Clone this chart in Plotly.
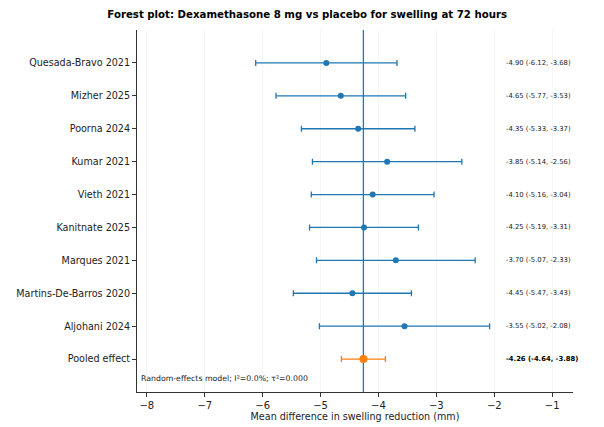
import plotly.graph_objects as go

studies = ["Quesada-Bravo 2021", "Mizher 2025", "Poorna 2024", "Kumar 2021", "Vieth 2021",
           "Kanitnate 2025", "Marques 2021", "Martins-De-Barros 2020", "Aljohani 2024"]
md = [-4.90, -4.65, -4.35, -3.85, -4.10, -4.25, -3.70, -4.45, -3.55]
lower = [-6.12, -5.77, -5.33, -5.14, -5.16, -5.19, -5.07, -5.47, -5.02]
upper = [-3.68, -3.53, -3.37, -2.56, -3.04, -3.31, -2.33, -3.43, -2.08]
pooled_label = "Pooled effect"
pooled_md = -4.26
pooled_lower = -4.64
pooled_upper = -3.88
model_note = "Random-effects model; I²=0.0%; τ²=0.000"
x_ticks = [-8, -7, -6, -5, -4, -3, -2, -1]

n = len(studies)
ys = [n - i for i in range(n)]  # 9..1
text_x = max(upper) + 0.25

fig = go.Figure()
fig.add_trace(go.Scatter(
    x=md, y=ys, mode="markers",
    marker=dict(color="#1f77b4", size=6),
    error_x=dict(type="data", symmetric=False,
                 array=[u - m for u, m in zip(upper, md)],
                 arrayminus=[m - l for m, l in zip(md, lower)],
                 color="#1f77b4", thickness=1.3, width=3),
    showlegend=False, hoverinfo="skip", cliponaxis=False))
fig.add_trace(go.Scatter(
    x=[pooled_md], y=[0], mode="markers",
    marker=dict(color="#ff7f0e", size=8),
    error_x=dict(type="data", symmetric=False,
                 array=[pooled_upper - pooled_md], arrayminus=[pooled_md - pooled_lower],
                 color="#ff7f0e", thickness=1.3, width=3),
    showlegend=False, hoverinfo="skip", cliponaxis=False))

fig.add_shape(type="line", x0=pooled_md, x1=pooled_md, y0=0, y1=1, xref="x", yref="paper",
              line=dict(color="#1f77b4", width=1.3), layer="below")

for y, m, l, u in zip(ys, md, lower, upper):
    fig.add_annotation(x=text_x, y=y, xref="x", yref="y", xanchor="left", yanchor="middle",
                       text=f"{m:.2f} ({l:.2f}, {u:.2f})", showarrow=False,
                       font=dict(size=6.8, color="#222222"))
fig.add_annotation(x=text_x, y=0, xref="x", yref="y", xanchor="left", yanchor="middle",
                   text=f"<b>{pooled_md:.2f} ({pooled_lower:.2f}, {pooled_upper:.2f})</b>",
                   showarrow=False, font=dict(size=6.8, color="#000000"))
fig.add_annotation(x=0.005, y=0.02, xref="paper", yref="paper", xanchor="left", yanchor="bottom",
                   text=model_note, showarrow=False, font=dict(size=7.8, color="#222222"))

fig.update_layout(
    width=596, height=419,
    margin=dict(l=129, r=31, t=22, b=35),
    plot_bgcolor="white", paper_bgcolor="white",
    font=dict(family="DejaVu Sans", size=9.6, color="#222222"),
    title=dict(text="<b>Forest plot: Dexamethasone 8 mg vs placebo for swelling at 72 hours</b>",
               x=0.502, xanchor="center", y=0.985, yanchor="middle",
               font=dict(size=10.2, color="#000000")),
    xaxis=dict(range=[-8.17, -0.64], tickvals=x_ticks,
               ticktext=[f"−{abs(t)}" for t in x_ticks], automargin=False,
               showgrid=True, gridcolor="rgba(0,0,0,0.035)", gridwidth=1,
               zeroline=False, showline=True, linecolor="#333333", linewidth=1,
               ticks="outside", ticklen=4, tickcolor="#333333", tickfont=dict(size=10),
               title=dict(text="Mean difference in swelling reduction (mm)", standoff=3,
                          font=dict(size=9.6))),
    yaxis=dict(range=[-1, 10], tickvals=ys + [0], ticktext=studies + [pooled_label],
               automargin=False,
               showgrid=False, zeroline=False, showline=True, linecolor="#333333", linewidth=1,
               ticks="outside", ticklen=4, tickcolor="#333333"),
)

fig.write_html("out.html")
